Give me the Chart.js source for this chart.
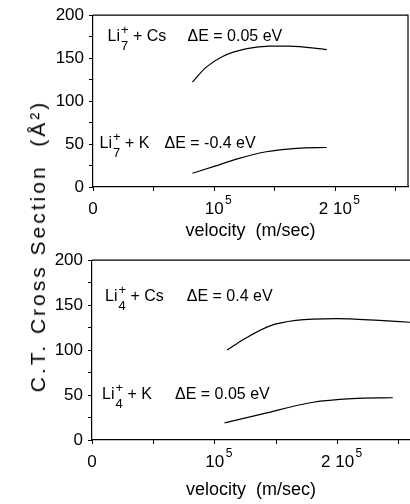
<!DOCTYPE html>
<html>
<head>
<meta charset="utf-8">
<script src="https://cdn.jsdelivr.net/npm/chart.js@4"></script>
<style>
  body { margin: 0; background: #fff; width: 410px; height: 504px; overflow: hidden; position: relative;
         font-family: Arial, "Liberation Sans", sans-serif; }
  .box { position: absolute; left: 0; width: 410px; }
  #ytitle { position: absolute; left: 38px; top: 246px; transform: translate(-50%, -50%) rotate(-90deg);
            font-size: 21px; white-space: pre; color: #000; letter-spacing: 3px; }
</style>
</head>
<body>
<div class="box" style="top:0;height:245px"><canvas id="topChart"></canvas></div>
<div class="box" style="top:245px;height:259px"><canvas id="bottomChart"></canvas></div>
<div id="ytitle">C.T. Cross Section  (Å²)</div>
<script>
// tick marks and labels (10^5 written as base + exponent)
const xTickValues = [0, 50000, 100000, 150000, 200000, 250000];
const xTickText = { 0: "0", 100000: "10", 200000: "2 10" };
const xTickExp = { 100000: "5", 200000: "5" };
const xTitle = "velocity  (m/sec)";

// upper panel: Li7+ (velocity in m/s, section in A^2)
const csVel7 = [82000, 93000, 107000, 127000, 146000, 162000, 193000];
const csSec7 = [122, 139, 152, 161, 164, 164, 160];
const kVel7 = [82000, 100000, 120000, 143000, 168000, 193000];
const kSec7 = [16, 24, 33, 41, 45, 46];

// lower panel: Li4+
const csVel4 = [110000, 126000, 145000, 166000, 199000, 234000, 259000];
const csSec4 = [100, 114, 127, 133, 135, 133, 131];
const kVel4 = [108000, 139000, 180000, 212000, 245000];
const kSec4 = [19, 29, 42, 46, 47];

// curve labels
const topLabels = [
  { sub: "7", rest: "+ Cs", dE: "ΔE = 0.05 eV" },
  { sub: "7", rest: "+ K", dE: "ΔE = -0.4 eV" }
];
const bottomLabels = [
  { sub: "4", rest: "+ Cs", dE: "ΔE = 0.4 eV" },
  { sub: "4", rest: "+ K", dE: "ΔE = 0.05 eV" }
];

const FONT = "Arial, 'Liberation Sans', sans-serif";
const pts = (xs, ys) => xs.map((x, i) => ({ x: x, y: ys[i] }));

const frame = {
  id: "frame",
  afterDraw(chart, args, opts) {
    const a = chart.chartArea, ctx = chart.ctx;
    ctx.save();
    ctx.strokeStyle = "#000";
    ctx.lineWidth = 1.2;
    ctx.beginPath();
    ctx.moveTo(a.left, a.top);
    ctx.lineTo(a.right, a.top);
    if (opts.right) ctx.lineTo(a.right, a.bottom);
    ctx.stroke();

    // exponents of the x tick labels
    const sx = chart.scales.x;
    ctx.fillStyle = "#000";
    ctx.textBaseline = "alphabetic";
    ctx.textAlign = "left";
    Object.keys(xTickExp).forEach(k => {
      const v = Number(k);
      const px = sx.getPixelForValue(v);
      ctx.font = "17px " + FONT;
      const w = ctx.measureText(xTickText[v]).width;
      ctx.font = "12px " + FONT;
      ctx.fillText(xTickExp[v], px + w / 2 + 1.5, a.bottom + 17);
    });
    ctx.restore();
  }
};

const curveLabels = {
  id: "curveLabels",
  afterDraw(chart, args, opts) {
    const a = chart.chartArea, ctx = chart.ctx;
    ctx.save();
    ctx.fillStyle = "#000";
    ctx.textBaseline = "alphabetic";
    opts.items.forEach((it, i) => {
      const p = opts.pos[i];
      const x = a.left + p[0], y = a.top + p[1];
      ctx.font = "16px " + FONT;
      ctx.fillText("Li", x, y);
      const w = ctx.measureText("Li").width;
      ctx.fillText(it.rest, x + w + 13, y);
      ctx.fillText(it.dE, a.left + p[2], y);
      ctx.font = "13px " + FONT;
      ctx.fillText("+", x + w + 1, y - 7);
      ctx.fillText(it.sub, x + w + 1, y + 9);
    });
    ctx.restore();
  }
};

function makeChart(id, series, xMax, yWidth, xHeight, pad, labels, pos, right) {
  const ds = series.map(s => ({
    data: s, borderColor: "#000", borderWidth: 1.2, pointRadius: 0,
    cubicInterpolationMode: "monotone", fill: false
  }));
  return new Chart(document.getElementById(id), {
    type: "line",
    data: { datasets: ds },
    plugins: [frame, curveLabels],
    options: {
      responsive: true, maintainAspectRatio: false, animation: false,
      layout: { padding: pad },
      plugins: {
        legend: { display: false }, tooltip: { enabled: false },
        frame: { right: right },
        curveLabels: { items: labels, pos: pos }
      },
      scales: {
        x: {
          type: "linear", min: 0, max: xMax,
          afterBuildTicks: s => { s.ticks = xTickValues.map(v => ({ value: v })); },
          afterFit: s => { s.height = xHeight; },
          border: { display: true, color: "#000", width: 1.2 },
          grid: { drawOnChartArea: false, color: "#000", tickLength: 4 },
          ticks: {
            autoSkip: false, maxRotation: 0,
            color: "#000", padding: 8, font: { size: 17, family: FONT },
            callback: function (v) {
              const t = xTickText[Math.round(v)];
              return t !== undefined ? t : "";
            }
          },
          title: {
            display: true, text: xTitle, color: "#000", padding: { top: 0, bottom: 3 },
            font: { size: 18, family: FONT }
          }
        },
        y: {
          min: 0, max: 200,
          afterFit: s => { s.width = yWidth; },
          border: { display: true, color: "#000", width: 1.2 },
          grid: { drawOnChartArea: false, color: "#000", tickLength: 4 },
          ticks: {
            stepSize: 25, autoSkip: false, color: "#000", padding: 5,
            font: { size: 17, family: FONT },
            callback: v => v % 50 === 0 ? v : ""
          }
        }
      }
    }
  });
}

makeChart("topChart", [pts(csVel7, csSec7), pts(kVel7, kSec7)], 260000, 93, 58,
  { top: 7, right: 2, left: 0, bottom: 0 }, topLabels,
  [[14.5, 26, 94.5], [6.5, 133, 71.5]], true);
makeChart("bottomChart", [pts(csVel4, csSec4), pts(kVel4, kSec4)], 259000, 92, 64,
  { top: 11, right: 0, left: 0, bottom: 0 }, bottomLabels,
  [[13, 41, 94.7], [10, 139, 83]], false);
</script>
</body>
</html>
